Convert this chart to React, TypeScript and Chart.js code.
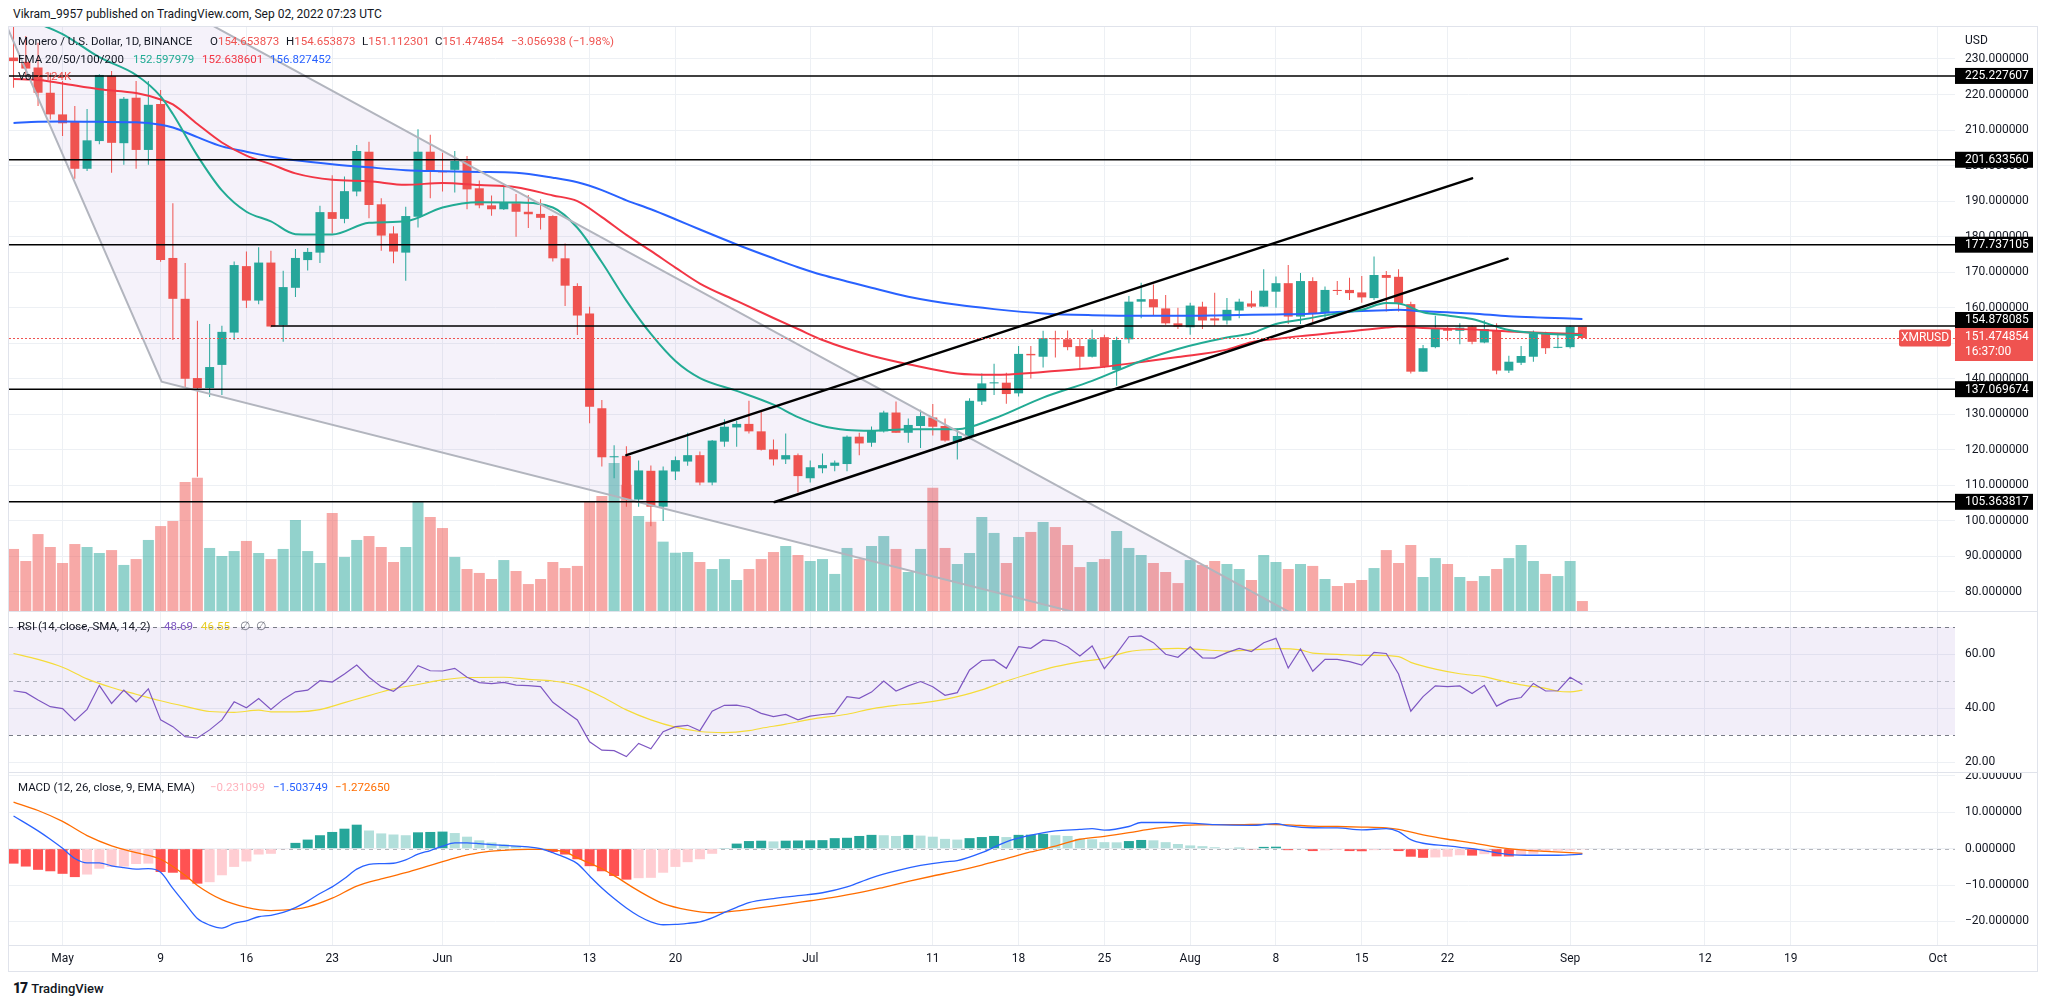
import React, { useEffect, useRef } from 'react';
import { Chart, registerables } from 'chart.js';

Chart.register(...registerables);

// ---------------- data (day index 0 = Apr 27, 2022) ----------------
const opens = [
  230.4, 229.2, 227.6, 220.5, 214.4, 212.3, 199.1, 206.9, 225.2, 206.3,
  219.1, 204.4, 217.3, 174.0, 162.5, 140.2, 137.4, 143.9, 153.0, 171.7,
  162.0, 172.7, 155.1, 165.6, 173.4, 175.5, 186.9, 185.0, 192.7, 203.9,
  189.1, 180.9, 175.5, 185.6, 203.9, 198.3, 198.8, 201.3, 193.6, 188.8,
  187.7, 189.4, 187.0, 186.4, 185.8, 173.9, 166.1, 158.4, 131.7, 117.9,
  118.3, 106.0, 114.1, 104.0, 113.9, 116.7, 118.5, 110.8, 122.3, 126.3,
  127.3, 125.2, 120.1, 117.3, 118.5, 112.0, 114.8, 115.5, 116.0, 123.7,
  122.0, 125.2, 130.5, 124.8, 126.7, 129.1, 126.7, 122.3, 123.7, 133.6,
  138.7, 138.9, 135.9, 147.0, 146.2, 151.4, 151.1, 149.2, 146.2, 151.7,
  142.5, 151.1, 161.7, 162.4, 159.8, 155.6, 154.5, 160.3, 157.0, 156.4,
  159.2, 161.2, 160.3, 164.5, 166.9, 157.5, 167.5, 158.4, 165.0, 165.0,
  164.3, 162.7, 169.2, 168.7, 161.0, 142.0, 148.9, 154.2, 153.5, 154.7,
  150.2, 153.7, 142.3, 144.5, 146.2, 152.8, 148.7, 148.9, 154.653873,
];
const highs = [
  239.5, 236.5, 234.6, 226.1, 223.8, 216.8, 215.9, 225.7, 226.6, 219.3,
  223.8, 223.8, 221.3, 189.4, 172.6, 156.3, 155.4, 154.9, 173.0, 175.8,
  177.0, 176.0, 170.4, 176.5, 176.8, 188.7, 197.3, 196.9, 205.8, 206.7,
  190.8, 182.9, 188.4, 210.2, 208.7, 203.6, 204.1, 202.7, 195.8, 191.6,
  194.1, 192.0, 191.7, 190.5, 186.0, 178.1, 166.9, 160.3, 134.0, 121.3,
  121.0, 117.0, 115.6, 115.3, 118.1, 124.8, 119.5, 122.8, 128.6, 128.2,
  133.8, 130.8, 122.9, 124.6, 119.0, 117.0, 119.0, 117.0, 124.0, 124.8,
  126.6, 131.0, 133.6, 128.8, 131.3, 132.9, 128.8, 126.0, 134.5, 141.5,
  144.2, 141.7, 149.2, 149.2, 153.5, 153.5, 153.6, 151.4, 153.9, 152.4,
  151.8, 163.3, 167.0, 166.5, 163.6, 160.0, 161.4, 161.7, 164.2, 162.7,
  162.5, 164.8, 170.8, 168.8, 172.0, 169.8, 168.6, 166.0, 167.5, 168.4,
  168.9, 174.4, 170.3, 170.8, 161.7, 149.5, 157.7, 154.7, 155.6, 155.0,
  156.5, 155.6, 146.5, 149.2, 153.6, 153.2, 152.8, 155.0, 154.653873,
];
const lows = [
  221.9, 225.0, 216.8, 213.0, 208.3, 196.3, 198.5, 206.0, 198.0, 200.2,
  199.1, 200.2, 172.9, 150.9, 137.4, 112.4, 134.9, 135.4, 150.9, 159.9,
  161.0, 154.5, 150.4, 163.0, 170.5, 172.6, 180.9, 183.8, 191.4, 185.2,
  176.0, 172.5, 167.6, 182.6, 190.8, 192.7, 192.4, 187.7, 188.0, 185.9,
  187.5, 180.0, 182.4, 182.0, 173.0, 160.5, 152.3, 127.5, 115.3, 112.0,
  104.0, 104.0, 98.5, 100.0, 111.5, 115.5, 110.0, 110.0, 120.9, 120.9,
  124.6, 119.8, 115.6, 116.0, 108.0, 110.8, 113.4, 114.0, 114.0, 118.5,
  120.9, 124.9, 124.8, 122.0, 120.5, 124.0, 122.3, 117.3, 123.0, 132.6,
  135.4, 133.0, 135.0, 140.1, 143.2, 146.0, 148.0, 142.7, 146.0, 143.0,
  138.0, 150.0, 157.0, 157.8, 155.2, 154.0, 152.4, 154.0, 154.9, 155.3,
  157.0, 159.9, 160.2, 160.0, 155.4, 155.4, 156.0, 157.0, 163.6, 162.2,
  161.4, 162.2, 158.9, 158.9, 141.5, 142.0, 148.6, 150.7, 149.7, 149.7,
  150.0, 141.3, 141.6, 143.9, 144.8, 147.0, 148.6, 148.5, 151.112301,
];
const closes = [
  229.4, 227.3, 220.5, 214.4, 211.9, 199.1, 207.1, 225.5, 206.4, 218.8,
  204.4, 217.1, 173.4, 162.5, 140.0, 137.4, 143.3, 153.2, 172.0, 162.0,
  172.7, 154.7, 165.8, 174.0, 175.7, 186.9, 185.0, 192.8, 204.1, 188.9,
  180.3, 175.8, 185.8, 203.9, 198.3, 198.1, 201.3, 193.3, 188.8, 187.7,
  189.6, 187.0, 186.3, 185.3, 173.9, 166.2, 157.8, 132.1, 117.9, 118.2,
  106.1, 114.2, 104.0, 114.2, 117.1, 118.5, 110.8, 122.6, 126.5, 127.3,
  125.2, 120.0, 117.3, 118.5, 112.6, 115.1, 115.7, 116.4, 123.7, 121.8,
  125.4, 130.5, 124.8, 127.0, 129.5, 126.5, 122.6, 123.9, 133.8, 138.7,
  139.0, 135.7, 147.0, 146.6, 151.4, 151.1, 148.9, 146.2, 151.1, 143.4,
  150.9, 161.7, 162.4, 160.1, 155.6, 154.7, 160.6, 156.4, 156.4, 159.4,
  161.7, 160.3, 164.8, 166.9, 157.5, 167.5, 158.4, 165.0, 164.7, 164.1,
  162.9, 169.2, 168.4, 161.2, 142.0, 148.6, 154.2, 153.5, 154.4, 150.4,
  154.0, 142.3, 144.8, 146.4, 152.8, 148.6, 148.9, 154.653873, 151.474854,
];
const volumesK = [
  44.2, 35.6, 54.8, 45.6, 34.2, 47.7, 45.6, 41.3, 43.4, 32.8,
  37.0, 50.6, 60.5, 64.1, 91.9, 94.9, 44.9, 39.2, 42.7, 49.9,
  41.3, 37.0, 44.2, 64.8, 42.7, 34.2, 69.8, 38.5, 50.6, 53.4,
  45.6, 34.9, 45.6, 77.6, 67.0, 59.1, 38.5, 29.9, 27.1, 22.8,
  36.3, 28.5, 19.2, 22.8, 34.9, 30.6, 32.1, 77.6, 81.9, 105.4,
  90.0, 67.7, 63.6, 49.4, 41.5, 42.0, 34.9, 29.9, 37.0, 22.1,
  29.9, 37.0, 42.0, 46.3, 39.9, 35.6, 37.0, 26.4, 44.9, 37.0,
  46.3, 53.4, 44.2, 27.8, 44.2, 87.8, 44.9, 33.5, 41.3, 67.0,
  55.6, 34.2, 52.7, 56.3, 63.4, 59.8, 47.0, 31.3, 34.9, 37.0,
  57.0, 44.9, 39.9, 34.2, 27.8, 19.9, 36.3, 32.8, 35.6, 33.5,
  29.9, 22.1, 39.9, 34.9, 29.9, 33.5, 32.1, 22.8, 17.8, 19.9,
  22.1, 30.6, 43.4, 34.2, 47.0, 24.2, 37.7, 33.5, 24.2, 21.4,
  24.9, 29.9, 37.7, 47.0, 35.6, 26.4, 24.9, 35.6, 7.1,
];

const emaDays = [0, 2, 4, 7, 10, 12, 13, 15, 17, 19, 21, 23, 26, 29, 32, 35, 38, 41, 44, 46, 48, 50, 52, 54, 56, 59, 62, 64, 66, 68, 70, 73, 77, 80, 84, 88, 92, 95, 99, 101, 103, 105, 108, 110, 112, 113, 115, 117, 119, 122, 125, 128];
const ema20 = [243.0, 240.0, 237.0, 230.5, 225.5, 219.5, 214.5, 202.8, 193.0, 187.0, 184.3, 180.7, 180.6, 183.9, 184.3, 188.2, 189.7, 189.6, 188.2, 182.5, 172.8, 162.0, 152.6, 145.0, 140.2, 136.6, 132.7, 129.2, 126.7, 125.6, 125.4, 125.8, 125.8, 128.8, 134.7, 139.4, 145.0, 148.4, 151.6, 152.8, 155.4, 156.6, 158.4, 159.4, 161.3, 161.2, 158.7, 157.8, 156.8, 153.7, 152.7, 152.3];
const ema50 = [224.4, 224.1, 223.1, 221.5, 220.4, 218.6, 217.2, 211.7, 206.5, 202.8, 200.4, 197.8, 196.0, 195.6, 194.6, 195.1, 194.5, 193.9, 191.6, 190.0, 185.5, 180.5, 176.0, 171.3, 166.8, 161.9, 157.1, 154.0, 150.9, 148.5, 146.5, 144.1, 141.5, 141.1, 141.9, 143.0, 144.7, 146.1, 148.2, 150.3, 151.2, 152.0, 153.0, 153.7, 154.4, 154.7, 154.3, 154.1, 153.9, 153.3, 152.9, 152.6];
const ema100 = [212.0, 212.3, 212.4, 212.3, 212.2, 211.5, 210.7, 208.0, 205.4, 203.9, 202.5, 201.5, 200.4, 199.5, 198.7, 198.4, 198.2, 198.0, 196.6, 195.3, 193.1, 190.2, 187.7, 184.9, 182.0, 177.8, 173.9, 171.4, 169.2, 167.4, 165.6, 163.1, 160.8, 159.6, 158.4, 157.9, 157.7, 157.7, 157.9, 158.0, 158.1, 158.2, 158.8, 159.1, 159.3, 159.4, 159.0, 158.7, 158.4, 157.6, 157.2, 156.8];

const levelPrices = [225.227607, 201.63356, 177.737105, 154.878085, 137.069674, 105.363817];
const levelStartDays = [-5, -5, -5, 21, -5, -5];
const upperChannelDays = [50.0, 119.0];
const upperChannelPrices = [118.5, 196.4];
const lowerChannelDays = [62.1, 121.9];
const lowerChannelPrices = [105.3, 173.8];
const wedgeDays = [-5.8, 12.08, 91.5, 106.4];
const wedgePrices = [280.8, 139.2, 70, 70];
const lastPrice = 151.474854;

const rsi = [
  46.4, 45.7, 43.0, 40.5, 39.8, 35.3, 39.5, 48.4, 41.7, 46.6,
  42.3, 47.1, 35.6, 33.1, 29.4, 28.9, 31.9, 35.6, 42.3, 40.1,
  43.5, 39.5, 43.2, 46.0, 46.6, 50.1, 49.6, 52.6, 55.9, 51.4,
  47.9, 46.2, 49.8, 55.7, 53.8, 53.7, 54.7, 51.4, 49.4, 49.0,
  49.5, 48.5, 48.3, 47.9, 42.1, 38.8, 35.6, 27.5, 24.4, 24.2,
  22.0, 26.9, 24.9, 31.2, 33.1, 33.6, 31.6, 38.8, 41.0, 41.1,
  40.2, 38.0, 36.8, 37.6, 35.6, 37.0, 37.6, 38.0, 44.2, 43.6,
  45.9, 50.0, 46.3, 48.2, 49.8, 47.9, 44.7, 45.7, 54.1, 57.6,
  57.8, 54.7, 62.7, 62.1, 65.2, 64.8, 62.7, 59.3, 63.0, 54.6,
  60.2, 66.4, 66.7, 64.2, 59.9, 58.8, 62.7, 58.6, 58.5, 60.5,
  62.1, 60.9, 64.2, 65.8, 54.8, 61.9, 53.6, 58.0, 58.0, 57.2,
  55.9, 60.6, 60.2, 52.6, 38.8, 44.2, 48.2, 47.9, 48.2, 45.4,
  48.4, 40.7, 43.0, 43.9, 49.1, 46.3, 46.4, 51.4, 48.69,
];
const rsiMaDays = [0, 2, 4, 6, 8, 10, 12, 14, 16, 18, 20, 21, 23, 25, 27, 29, 31, 33, 35, 37, 40, 42, 44, 46, 48, 50, 52, 54, 56, 58, 60, 61, 63, 65, 68, 70, 72, 74, 76, 77, 79, 81, 83, 85, 87, 89, 91, 93, 95, 97, 99, 101, 103, 105, 106, 108, 110, 111, 113, 114, 116, 118, 120, 121, 123, 125, 126, 127, 128];
const rsiMa = [60.2, 58.0, 55.1, 50.8, 47.6, 45.1, 42.7, 40.6, 38.7, 38.4, 39.2, 38.6, 38.6, 39.4, 42.0, 44.6, 47.1, 48.7, 50.4, 51.3, 51.4, 50.6, 50.0, 48.2, 44.2, 39.3, 35.6, 32.9, 31.3, 30.9, 31.6, 32.5, 34.0, 35.8, 37.7, 39.7, 41.0, 41.8, 43.2, 44.2, 46.7, 50.0, 52.8, 55.3, 57.1, 58.4, 60.9, 61.7, 62.1, 61.6, 61.1, 61.5, 62.0, 61.5, 60.3, 59.9, 59.5, 59.5, 59.0, 56.9, 54.4, 52.7, 51.6, 50.5, 48.6, 47.3, 46.2, 46.0, 46.6];
const rsiLevels = [70, 50, 30];

const macdHist = [
  -4.1, -4.9, -5.8, -6.2, -6.9, -7.8, -7.1, -5.5, -5.0, -4.9,
  -4.2, -4.1, -6.4, -6.6, -8.5, -9.6, -9.2, -7.3, -5.0, -3.5,
  -1.6, -1.4, -0.2, 1.6, 2.5, 3.7, 4.6, 5.5, 6.6, 5.0,
  4.2, 3.9, 3.7, 4.5, 4.6, 4.7, 4.3, 3.3, 2.3, 1.7,
  1.2, 0.8, 0.3, 0.05, -0.9, -1.6, -2.9, -4.8, -6.2, -7.5,
  -8.5, -8.1, -8.0, -6.6, -5.0, -3.7, -2.9, -1.4, 0.2, 1.4,
  2.1, 2.2, 2.0, 2.2, 2.25, 2.3, 2.35, 2.9, 3.0, 3.5,
  3.8, 3.7, 3.5, 3.8, 3.6, 3.3, 2.7, 2.5, 2.9, 3.2,
  3.5, 3.2, 3.8, 3.85, 4.1, 3.7, 3.5, 2.7, 2.6, 1.8,
  1.75, 2.1, 2.4, 2.3, 1.8, 1.3, 0.9, 0.7, 0.4, 0.2,
  0.25, -0.2, 0.5, 0.55, -0.4, -0.1, -0.65, -0.45, -0.35, -0.65,
  -0.7, -0.4, -0.35, -0.65, -2.2, -2.5, -2.4, -2.2, -1.8, -1.9,
  -1.5, -2.1, -2.15, -1.7, -1.4, -0.9, -0.55, -0.5, -0.23,
];
const macdDays = [0, 2, 3, 4, 5, 6, 7, 8, 9, 10, 11, 12, 13, 14, 15, 16, 17, 18, 19, 20, 21, 22, 23, 24, 25, 26, 27, 28, 29, 30, 31, 32, 33, 34, 35, 36, 37, 38, 39, 40, 41, 42, 43, 44, 45, 46, 47, 48, 49, 50, 51, 52, 53, 54, 55, 56, 57, 58, 59, 60, 62, 64, 66, 68, 70, 72, 74, 76, 77, 79, 81, 83, 85, 87, 88, 89, 91, 92, 94, 96, 98, 101, 103, 104, 106, 108, 110, 112, 113, 114, 115, 117, 119, 120, 122, 124, 126, 128];
const macdLine = [9.0, 4.9, 2.6, 0.1, -2.7, -3.9, -3.9, -4.7, -5.2, -5.6, -5.5, -6.5, -10.9, -15.1, -19.2, -21.0, -21.8, -20.5, -19.8, -18.7, -18.3, -17.5, -16.2, -14.4, -12.3, -10.5, -8.2, -5.6, -4.3, -4.1, -4.0, -3.1, -1.5, -0.5, 0.7, 1.6, 1.6, 1.4, 1.1, 0.9, 0.7, 0.5, 0.05, -1.1, -2.4, -4.1, -7.5, -10.8, -13.7, -16.3, -18.5, -20.1, -20.9, -20.8, -20.5, -20.1, -19.0, -17.5, -16.1, -14.8, -13.7, -12.9, -12.1, -10.5, -8.0, -6.1, -4.6, -3.6, -3.3, -1.1, 1.9, 3.7, 4.9, 5.3, 5.5, 5.1, 6.1, 7.2, 7.2, 7.05, 6.6, 6.4, 6.9, 6.3, 5.75, 5.7, 5.2, 5.5, 4.7, 2.5, 1.5, 0.8, 0.0, -0.5, -1.6, -1.8, -1.8, -1.5];
const signalDays = [0, 2, 4, 6, 8, 10, 12, 14, 15, 17, 19, 21, 23, 24, 26, 28, 30, 32, 34, 36, 38, 40, 42, 43, 45, 46, 48, 49, 51, 53, 55, 57, 59, 61, 63, 65, 67, 69, 71, 73, 75, 77, 79, 81, 83, 85, 87, 89, 91, 93, 96, 100, 102, 104, 106, 108, 110, 112, 113, 115, 117, 119, 121, 123, 125, 128];
const signalLine = [12.8, 10.5, 7.5, 3.6, 0.8, -1.1, -2.9, -7.3, -10.1, -14.0, -16.1, -17.0, -16.6, -16.0, -13.6, -10.3, -8.3, -6.6, -4.6, -2.6, -1.1, -0.45, -0.18, -0.18, -0.9, -2.5, -5.5, -7.4, -11.6, -15.1, -16.8, -17.6, -17.1, -16.2, -15.3, -14.3, -13.3, -12.1, -10.6, -9.0, -7.5, -6.1, -4.5, -2.7, -0.9, 0.7, 2.6, 3.4, 4.4, 5.5, 6.5, 6.6, 6.7, 6.55, 6.2, 6.1, 5.95, 5.7, 5.3, 3.8, 2.6, 1.6, 0.45, -0.3, -0.75, -1.27];

const timeTickDays = [4, 12, 19, 26, 35, 47, 54, 65, 75, 82, 89, 96, 103, 110, 117, 127, 138, 145, 157];
const timeTickLabels = ['May', '9', '16', '23', 'Jun', '13', '20', 'Jul', '11', '18', '25', 'Aug', '8', '15', '22', 'Sep', '12', '19', 'Oct'];
const priceTicks = [80, 90, 100, 110, 120, 130, 140, 150, 160, 170, 180, 190, 200, 210, 220, 230];
const rsiTicks = [20, 40, 60];
const macdTicks = [-20, -10, 0, 10, 20];

// ---------------- styling / geometry ----------------
const FONT = "Roboto, 'Noto Sans', 'Liberation Sans', sans-serif";
const TEXT = '#131722';
const GRID = '#edf0f4';
const UP = '#26a69a';
const DOWN = '#ef5350';
const AXIS_W = 82;
const CANVAS_W = 2028;
const X_MIN = -0.37;
const X_MAX = 158.4;
const PRICE_MIN = 74.64;
const PRICE_MAX = 239.0;
const VOL_MAX = 416;
const RSI_MIN = 16.3;
const RSI_MAX = 75.56;
const MACD_MIN = -26.46;
const MACD_MAX = 20.8;

const idx = opens.map((_, i) => i);
const pts = (days: number[], vals: number[]) => days.map((d, k) => ({ x: d, y: vals[k] }));
const fmtSigned = (v: number, d: number) => (v < 0 ? '\u2212' : '') + Math.abs(v).toFixed(d);

function timeAxis(showLabels: boolean): any {
  return {
    type: 'linear',
    position: 'bottom',
    min: X_MIN,
    max: X_MAX,
    offset: false,
    grid: { color: GRID, drawTicks: false, offset: false },
    border: { display: false },
    ticks: {
      display: showLabels,
      autoSkip: false,
      maxRotation: 0,
      minRotation: 0,
      padding: 7,
      color: TEXT,
      font: { family: FONT, size: 12 },
      callback: (_v: any, i: number) => timeTickLabels[i],
    },
    afterBuildTicks: (s: any) => {
      s.ticks = timeTickDays.map((v) => ({ value: v }));
    },
    afterFit: (s: any) => {
      s.height = showLabels ? 26 : 0;
      s.paddingLeft = 0;
      s.paddingRight = 0;
    },
  };
}

function valueAxis(min: number, max: number, ticks: number[], fmt: (v: number) => string): any {
  return {
    type: 'linear',
    position: 'right',
    min,
    max,
    grid: { color: GRID, drawTicks: false },
    border: { display: false },
    ticks: {
      color: TEXT,
      padding: 10,
      autoSkip: false,
      font: { family: FONT, size: 12 },
      callback: (v: any) => fmt(Number(v)),
    },
    afterBuildTicks: (s: any) => {
      s.ticks = ticks.map((v) => ({ value: v }));
    },
    afterFit: (s: any) => {
      s.width = AXIS_W;
      s.paddingTop = 0;
      s.paddingBottom = 0;
    },
  };
}

const baseOptions = {
  responsive: false,
  animation: false,
  events: [],
  layout: { padding: 0, autoPadding: false },
  plugins: { legend: { display: false }, tooltip: { enabled: false } },
};

function clipArea(ctx: any, a: any) {
  ctx.beginPath();
  ctx.rect(a.left, a.top, a.right - a.left, a.bottom - a.top);
  ctx.clip();
}

const mainOverlay = {
  id: 'mainOverlay',
  afterDatasetDraw(chart: any, args: any) {
    if (args.index !== 0) return;
    const { ctx, chartArea: a } = chart;
    const xs = chart.scales.x;
    const ys = chart.scales.y;
    ctx.save();
    clipArea(ctx, a);
    ctx.beginPath();
    wedgeDays.forEach((d, k) => {
      const X = xs.getPixelForValue(d);
      const Y = ys.getPixelForValue(wedgePrices[k]);
      if (k === 0) ctx.moveTo(X, Y);
      else ctx.lineTo(X, Y);
    });
    ctx.closePath();
    ctx.fillStyle = 'rgba(126,87,194,0.08)';
    ctx.fill();
    ctx.restore();
  },
  afterDatasetsDraw(chart: any) {
    const { ctx, chartArea: a } = chart;
    const xs = chart.scales.x;
    const ys = chart.scales.y;
    ctx.save();
    clipArea(ctx, a);
    // wedge outline
    const W = wedgeDays.map((d, k) => [xs.getPixelForValue(d), ys.getPixelForValue(wedgePrices[k])]);
    ctx.strokeStyle = '#b2b5be';
    ctx.lineWidth = 2;
    ctx.beginPath();
    ctx.moveTo(W[3][0], W[3][1]);
    ctx.lineTo(W[0][0], W[0][1]);
    ctx.lineTo(W[1][0], W[1][1]);
    ctx.lineTo(W[2][0], W[2][1]);
    ctx.stroke();
    // horizontal levels
    ctx.strokeStyle = '#000000';
    ctx.lineWidth = 1.5;
    levelPrices.forEach((p, k) => {
      const Y = ys.getPixelForValue(p);
      const X0 = Math.max(a.left, xs.getPixelForValue(levelStartDays[k]));
      ctx.beginPath();
      ctx.moveTo(X0, Y);
      ctx.lineTo(a.right, Y);
      ctx.stroke();
    });
    // channel
    ctx.lineWidth = 2.5;
    ctx.lineCap = 'round';
    [
      [upperChannelDays, upperChannelPrices],
      [lowerChannelDays, lowerChannelPrices],
    ].forEach(([ds, ps]) => {
      ctx.beginPath();
      ctx.moveTo(xs.getPixelForValue(ds[0]), ys.getPixelForValue(ps[0]));
      ctx.lineTo(xs.getPixelForValue(ds[1]), ys.getPixelForValue(ps[1]));
      ctx.stroke();
    });
    // last price dotted line
    const yCur = ys.getPixelForValue(lastPrice);
    ctx.setLineDash([2, 2]);
    ctx.lineCap = 'butt';
    ctx.strokeStyle = DOWN;
    ctx.lineWidth = 1;
    ctx.beginPath();
    ctx.moveTo(a.left, Math.round(yCur) + 0.5);
    ctx.lineTo(a.right, Math.round(yCur) + 0.5);
    ctx.stroke();
    ctx.restore();
  },
  afterDraw(chart: any) {
    const { ctx, chartArea: a } = chart;
    const ys = chart.scales.y;
    ctx.save();
    ctx.font = `12px ${FONT}`;
    ctx.textBaseline = 'middle';
    ctx.textAlign = 'left';
    const yCur = ys.getPixelForValue(lastPrice);
    const curTop = yCur - 10;
    levelPrices.forEach((p) => {
      let yc = ys.getPixelForValue(p);
      if (yc < yCur && yc + 8 > curTop) yc = curTop - 8;
      ctx.fillStyle = '#000000';
      ctx.fillRect(a.right, yc - 8, 78, 16);
      ctx.fillStyle = '#ffffff';
      ctx.fillText(p.toFixed(6), a.right + 10, yc + 0.5);
    });
    ctx.fillStyle = DOWN;
    ctx.fillRect(a.right, curTop, 78, 33);
    ctx.fillStyle = '#ffffff';
    ctx.fillText(lastPrice.toFixed(6), a.right + 10, yCur - 1);
    ctx.fillText('16:37:00', a.right + 10, yCur + 14);
    // symbol tag
    ctx.fillStyle = DOWN;
    ctx.beginPath();
    if (ctx.roundRect) ctx.roundRect(a.right - 56, yCur - 8.5, 52, 17, 2);
    else ctx.rect(a.right - 56, yCur - 8.5, 52, 17);
    ctx.fill();
    ctx.fillStyle = '#ffffff';
    ctx.textAlign = 'center';
    ctx.fillText('XMRUSD', a.right - 30, yCur + 0.5);
    ctx.restore();
  },
};

const rsiOverlay = {
  id: 'rsiOverlay',
  beforeDatasetsDraw(chart: any) {
    const { ctx, chartArea: a } = chart;
    const ys = chart.scales.y;
    const yTop = ys.getPixelForValue(rsiLevels[0]);
    const yBot = ys.getPixelForValue(rsiLevels[2]);
    ctx.save();
    ctx.fillStyle = 'rgba(126,87,194,0.1)';
    ctx.fillRect(a.left, yTop, a.right - a.left, yBot - yTop);
    ctx.setLineDash([4, 4]);
    ctx.lineWidth = 1;
    rsiLevels.forEach((lv, k) => {
      ctx.strokeStyle = k === 1 ? 'rgba(120,123,134,0.55)' : '#787b86';
      const Y = Math.round(ys.getPixelForValue(lv)) + 0.5;
      ctx.beginPath();
      ctx.moveTo(a.left, Y);
      ctx.lineTo(a.right, Y);
      ctx.stroke();
    });
    ctx.restore();
  },
};

const macdOverlay = {
  id: 'macdOverlay',
  beforeDatasetsDraw(chart: any) {
    const { ctx, chartArea: a } = chart;
    const ys = chart.scales.y;
    const Y = Math.round(ys.getPixelForValue(0)) + 0.5;
    ctx.save();
    ctx.setLineDash([4, 4]);
    ctx.strokeStyle = 'rgba(120,123,134,0.55)';
    ctx.lineWidth = 1;
    ctx.beginPath();
    ctx.moveTo(a.left, Y);
    ctx.lineTo(a.right, Y);
    ctx.stroke();
    ctx.restore();
  },
};

function mainConfig(): any {
  const up = idx.map((i) => closes[i] >= opens[i]);
  const candleColors = up.map((u) => (u ? UP : DOWN));
  const volColors = up.map((u) => (u ? 'rgba(38,166,154,0.5)' : 'rgba(239,83,80,0.5)'));
  const emaLine = (days: number[], vals: number[], color: string, order: number) => ({
    type: 'line',
    data: pts(days, vals),
    yAxisID: 'y',
    borderColor: color,
    borderWidth: 2,
    pointRadius: 0,
    cubicInterpolationMode: 'monotone',
    order,
  });
  return {
    type: 'bar',
    data: {
      datasets: [
        {
          type: 'bar',
          data: idx.map((i) => ({ x: i, y: volumesK[i] })),
          yAxisID: 'yVol',
          backgroundColor: volColors,
          grouped: false,
          barThickness: 11,
          maxBarThickness: 11,
          inflateAmount: 0,
          order: 20,
        },
        {
          type: 'bar',
          data: idx.map((i) => ({ x: i, y: [lows[i], highs[i]] })),
          yAxisID: 'y',
          backgroundColor: candleColors,
          grouped: false,
          barThickness: 1,
          maxBarThickness: 1,
          inflateAmount: 0,
          order: 10,
        },
        {
          type: 'bar',
          data: idx.map((i) => ({ x: i, y: [Math.min(opens[i], closes[i]), Math.max(opens[i], closes[i])] })),
          yAxisID: 'y',
          backgroundColor: candleColors,
          grouped: false,
          barThickness: 9,
          maxBarThickness: 9,
          minBarLength: 1,
          inflateAmount: 0,
          order: 9,
        },
        emaLine(emaDays, ema100, '#2962ff', 5),
        emaLine(emaDays, ema50, '#f23645', 4),
        emaLine(emaDays, ema20, '#22ab94', 3),
      ],
    },
    options: {
      ...baseOptions,
      scales: {
        x: timeAxis(false),
        y: valueAxis(PRICE_MIN, PRICE_MAX, priceTicks, (v) => v.toFixed(6)),
        yVol: { type: 'linear', display: false, position: 'left', min: 0, max: VOL_MAX, grid: { display: false } },
      },
    },
    plugins: [mainOverlay],
  };
}

function rsiConfig(): any {
  return {
    type: 'line',
    data: {
      datasets: [
        {
          data: pts(idx, rsi),
          borderColor: '#7e57c2',
          borderWidth: 1.2,
          pointRadius: 0,
          tension: 0,
          order: 1,
        },
        {
          data: pts(rsiMaDays, rsiMa),
          borderColor: '#f5dc3a',
          borderWidth: 1.2,
          pointRadius: 0,
          cubicInterpolationMode: 'monotone',
          order: 2,
        },
      ],
    },
    options: {
      ...baseOptions,
      scales: {
        x: timeAxis(false),
        y: valueAxis(RSI_MIN, RSI_MAX, rsiTicks, (v) => v.toFixed(2)),
      },
    },
    plugins: [rsiOverlay],
  };
}

function macdConfig(): any {
  const histColors = macdHist.map((v, i) => {
    const prev = i > 0 ? macdHist[i - 1] : Infinity;
    if (v >= 0) return v >= prev ? '#26a69a' : '#b2dfdb';
    return v >= prev ? '#ffcdd2' : '#ff5252';
  });
  return {
    type: 'bar',
    data: {
      datasets: [
        {
          type: 'bar',
          data: idx.map((i) => ({ x: i, y: macdHist[i] })),
          backgroundColor: histColors,
          grouped: false,
          barThickness: 10,
          maxBarThickness: 10,
          inflateAmount: 0,
          order: 5,
        },
        {
          type: 'line',
          data: pts(signalDays, signalLine),
          borderColor: '#ff6d00',
          borderWidth: 1.3,
          pointRadius: 0,
          cubicInterpolationMode: 'monotone',
          order: 2,
        },
        {
          type: 'line',
          data: pts(macdDays, macdLine),
          borderColor: '#2962ff',
          borderWidth: 1.3,
          pointRadius: 0,
          cubicInterpolationMode: 'monotone',
          order: 1,
        },
      ],
    },
    options: {
      ...baseOptions,
      scales: {
        x: timeAxis(true),
        y: valueAxis(MACD_MIN, MACD_MAX, macdTicks, (v) => fmtSigned(v, 6)),
      },
    },
    plugins: [macdOverlay],
  };
}

const txt = (left: number, top: number, color: string = TEXT, size: number = 11.5): any => ({
  position: 'absolute',
  left,
  top,
  color,
  fontSize: size,
  lineHeight: '14px',
  whiteSpace: 'nowrap',
});

export default function App() {
  const mainRef = useRef<HTMLCanvasElement>(null);
  const rsiRef = useRef<HTMLCanvasElement>(null);
  const macdRef = useRef<HTMLCanvasElement>(null);

  useEffect(() => {
    Chart.defaults.font.family = FONT;
    Chart.defaults.color = TEXT;
    const charts = [
      new Chart(mainRef.current as HTMLCanvasElement, mainConfig()),
      new Chart(rsiRef.current as HTMLCanvasElement, rsiConfig()),
      new Chart(macdRef.current as HTMLCanvasElement, macdConfig()),
    ];
    return () => charts.forEach((c) => c.destroy());
  }, []);

  const red = '#ef5350';
  const sep = (top: number): any => ({ position: 'absolute', left: 9, top, width: 2028, height: 1, background: '#e0e3eb' });

  return (
    <div
      style={{
        position: 'absolute',
        left: 0,
        top: 0,
        width: 2047,
        height: 1006,
        background: '#ffffff',
        overflow: 'hidden',
        fontFamily: FONT,
        color: TEXT,
      }}
    >
      <div style={{ ...txt(13, 6, TEXT, 12), lineHeight: '16px' }}>
        Vikram_9957 published on TradingView.com, Sep 02, 2022 07:23 UTC
      </div>

      <div
        style={{
          position: 'absolute',
          left: 8,
          top: 26,
          width: 2030,
          height: 946,
          border: '1px solid #e0e3eb',
          boxSizing: 'border-box',
        }}
      />

      <canvas ref={mainRef} width={CANVAS_W} height={584} style={{ position: 'absolute', left: 9, top: 27 }} />
      <canvas ref={rsiRef} width={CANVAS_W} height={160} style={{ position: 'absolute', left: 9, top: 612 }} />
      <canvas ref={macdRef} width={CANVAS_W} height={198} style={{ position: 'absolute', left: 9, top: 773 }} />

      <div style={sep(611)} />
      <div style={sep(772)} />
      <div style={sep(945)} />

      {/* main legend */}
      <div style={txt(18, 34)}>Monero / U.S. Dollar, 1D, BINANCE</div>
      <div style={txt(210, 34)}>O<span style={{ color: red }}>154.653873</span></div>
      <div style={txt(286, 34)}>H<span style={{ color: red }}>154.653873</span></div>
      <div style={txt(362, 34)}>L<span style={{ color: red }}>151.112301</span></div>
      <div style={txt(435, 34)}>C<span style={{ color: red }}>151.474854</span></div>
      <div style={txt(511, 34, red)}>{'\u22123.056938 (\u22121.98%)'}</div>

      <div style={txt(18, 52)}>EMA 20/50/100/200</div>
      <div style={txt(133, 52, '#22ab94')}>152.597979</div>
      <div style={txt(202, 52, '#f23645')}>152.638601</div>
      <div style={txt(270, 52, '#2962ff')}>156.827452</div>

      <div style={txt(18, 69)}>Vol</div>
      <div style={txt(35, 69, red)}>7.124K</div>

      <div style={txt(1965, 33, TEXT, 12)}>USD</div>

      {/* RSI legend */}
      <div style={txt(18, 619)}>RSI (14, close, SMA, 14, 2)</div>
      <div style={txt(164, 619, '#7e57c2')}>48.69</div>
      <div style={txt(201, 619, '#e8cf2a')}>46.55</div>
      <div style={txt(240, 619, '#787b86')}>{'\u2205'}</div>
      <div style={txt(256, 619, '#787b86')}>{'\u2205'}</div>

      {/* MACD legend */}
      <div style={txt(18, 780)}>MACD (12, 26, close, 9, EMA, EMA)</div>
      <div style={txt(210, 780, '#ffb3bd')}>{'\u22120.231099'}</div>
      <div style={txt(273, 780, '#2962ff')}>{'\u22121.503749'}</div>
      <div style={txt(335, 780, '#ff6d00')}>{'\u22121.272650'}</div>

      {/* logo */}
      <div style={{ ...txt(13, 980, TEXT, 13), lineHeight: '16px', fontWeight: 500 }}>
        <span style={{ fontWeight: 900, fontSize: 14, letterSpacing: -1, marginRight: 4 }}>17</span>TradingView
      </div>
    </div>
  );
}
